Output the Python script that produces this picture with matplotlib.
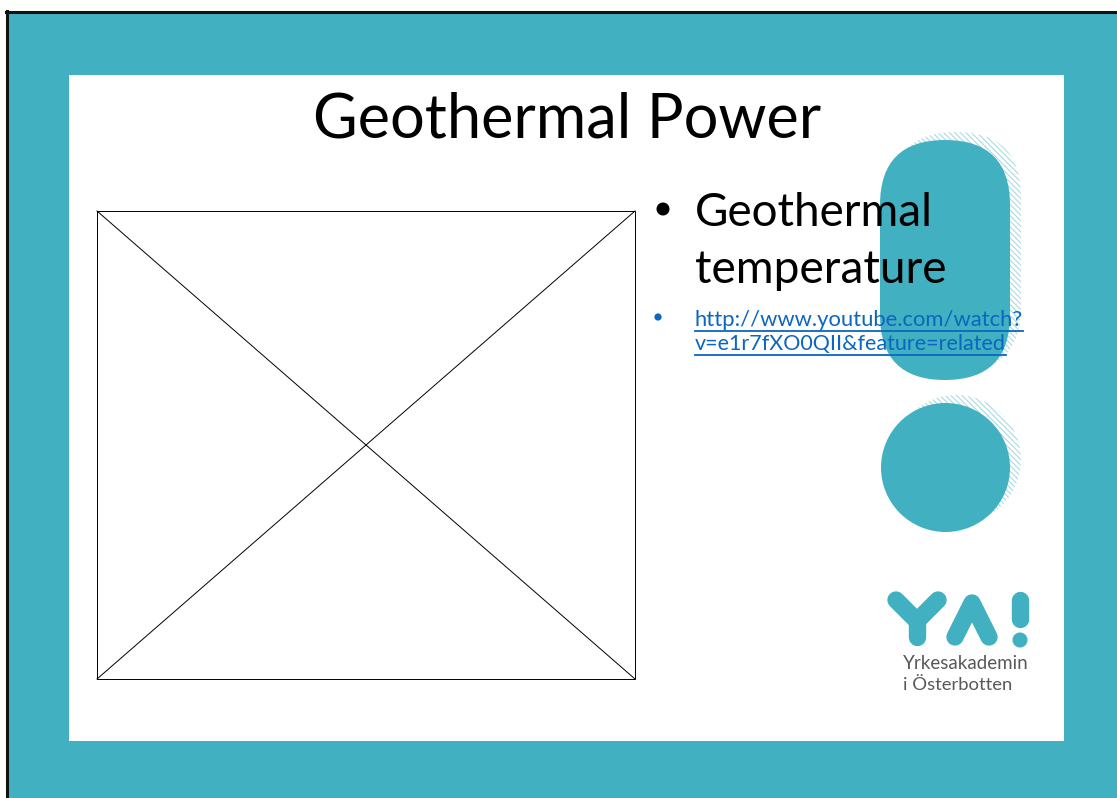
import matplotlib
matplotlib.use('Agg')
import matplotlib.pyplot as plt
from matplotlib.patches import Rectangle, FancyBboxPatch, Circle
from matplotlib.lines import Line2D

# ---- slide content ----
title_text = "Geothermal Power"
bullet_lines = ["Geothermal", "temperature"]
link_lines = ["http://www.youtube.com/watch?", "v=e1r7fXO0QII&feature=related"]
logo_mark = "YA!"
logo_lines = ["Yrkesakademin", "i Österbotten"]

TEAL = '#41b0c1'
HATCH = '#9fd6df'
LINK = '#0b66c3'
GRAY = '#58595b'

plt.rcParams['font.family'] = ['Lato', 'DejaVu Sans']
plt.rcParams['hatch.linewidth'] = 0.7

W, H = 1117, 798
fig = plt.figure(figsize=(W / 100, H / 100), dpi=100)
fig.patch.set_facecolor('white')
ax = fig.add_axes([0, 0, 1, 1])
ax.set_xlim(0, W)
ax.set_ylim(H, 0)
ax.axis('off')
renderer = fig.canvas.get_renderer()


def fit(x, y, s, width, size0=20, **kw):
    t = ax.text(x, y, s, fontsize=size0, va='baseline', ha='left', zorder=10, **kw)
    bb = t.get_window_extent(renderer)
    t.set_fontsize(size0 * width / bb.width)
    return t


# frame
ax.add_patch(Rectangle((6, 11), W, H, facecolor=TEAL, edgecolor='none', zorder=0))
ax.add_line(Line2D([6, W], [11.5, 11.5], color='#111111', lw=2.2, zorder=1))
ax.add_line(Line2D([6.5, 6.5], [11, H], color='#111111', lw=2.2, zorder=1))
ax.add_patch(Rectangle((69, 75), 995, 666, facecolor='white', edgecolor='none', zorder=1))

# decorative shapes (pill + circle) with hatched shadows
dx, dy = 11, -8
ax.add_patch(FancyBboxPatch((880 + dx, 140 + dy), 130, 240,
                            boxstyle='round,pad=0,rounding_size=65',
                            facecolor='none', edgecolor=HATCH, lw=0,
                            hatch='\\\\\\\\\\\\', zorder=2))
ax.add_patch(FancyBboxPatch((880, 140), 130, 240,
                            boxstyle='round,pad=0,rounding_size=65',
                            facecolor=TEAL, edgecolor='none', zorder=3))
ax.add_patch(Circle((945.5 + dx, 467.5 + dy), 64.5, facecolor='none',
                    edgecolor=HATCH, lw=0, hatch='\\\\\\\\\\\\', zorder=2))
ax.add_patch(Circle((945.5, 467.5), 64.5, facecolor=TEAL, edgecolor='none', zorder=3))

# placeholder picture box
bx0, by0, bx1, by1 = 97, 211, 635, 679
ax.add_patch(Rectangle((bx0, by0), bx1 - bx0, by1 - by0, facecolor='none',
                       edgecolor='black', lw=0.7, zorder=4))
ax.add_line(Line2D([bx0, bx1], [by0, by1], color='black', lw=0.7, zorder=4))
ax.add_line(Line2D([bx0, bx1], [by1, by0], color='black', lw=0.7, zorder=4))

# title
fit(313, 137, title_text, 508, 40, color='black')

# main bullet
ax.add_patch(Circle((663, 209), 6.5, facecolor='black', edgecolor='none', zorder=10))
fit(695, 226, bullet_lines[0], 238, 30, color='black')
fit(695, 283, bullet_lines[1], 251, 30, color='black')

# link bullet
ax.add_patch(Circle((658, 317), 3.6, facecolor=LINK, edgecolor='none', zorder=10))
link_ys = [326, 350]
link_ws = [328, 311]
for s, y, w in zip(link_lines, link_ys, link_ws):
    fit(695, y, s, w, 16, color=LINK)
    ax.add_line(Line2D([695, 695 + w], [y + 5, y + 5], color=LINK, lw=1.3, zorder=10))

# logo mark "YA!" drawn as rounded strokes
lw = 12.5
kw = dict(color=TEAL, lw=lw, solid_capstyle='round', solid_joinstyle='round', zorder=6)
ax.add_line(Line2D([896, 917, 938], [600, 621, 600], **kw))
ax.add_line(Line2D([917, 917], [621, 637], **kw))
ax.add_line(Line2D([955, 972, 989], [637, 603, 637], **kw))
ax.add_line(Line2D([1020, 1020], [600, 619], **kw))
ax.add_patch(Circle((1020, 640), 7.5, facecolor=TEAL, edgecolor='none', zorder=6))

fit(903, 669, logo_lines[0], 126, 14, color=GRAY, fontweight='normal')
fit(903, 690, logo_lines[1], 109, 14, color=GRAY, fontweight='normal')

fig.savefig('out.png', dpi=100)
